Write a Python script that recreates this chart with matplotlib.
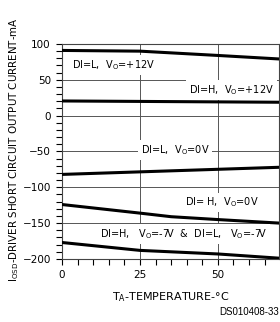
import matplotlib.pyplot as plt
from matplotlib.ticker import MultipleLocator

# temperature (degC) and short-circuit current (mA) for each curve
t_l12 = [0, 25, 50, 70]
i_l12 = [91, 90, 84, 79]
t_h12 = [0, 70]
i_h12 = [20.5, 18.7]
t_l0 = [0, 70]
i_l0 = [-82, -72]
t_h0 = [0, 25, 35, 50, 70]
i_h0 = [-124, -136, -141, -145, -150]
t_m7 = [0, 25, 50, 70]
i_m7 = [-177, -188, -193, -199]

labels = ['DI=L,  V$_\\mathregular{O}$=+12V',
          'DI=H,  V$_\\mathregular{O}$=+12V',
          'DI=L,  V$_\\mathregular{O}$=0V',
          'DI= H,  V$_\\mathregular{O}$=0V',
          'DI=H,   V$_\\mathregular{O}$=-7V  &  DI=L,   V$_\\mathregular{O}$=-7V']
label_pos = [(3.2, 70.7, 'left'), (68, 36, 'right'), (25.2, -48, 'left'),
             (63.2, -121, 'right'), (39, -165, 'center')]

plt.rcParams['font.family'] = ['DejaVu Sans']
fig = plt.figure(figsize=(2.8, 3.22), dpi=100)
ax = fig.add_axes([0.2214, 0.1957, 0.775, 0.6677])

for t, i in [(t_l12, i_l12), (t_h12, i_h12), (t_l0, i_l0), (t_h0, i_h0), (t_m7, i_m7)]:
    ax.plot(t, i, color='black', lw=2.2, zorder=3)

for txt, (x, y, ha) in zip(labels, label_pos):
    ax.text(x, y, txt, fontsize=7, ha=ha, va='center', zorder=4,
            bbox=dict(facecolor='white', edgecolor='none', pad=2))

ax.set_xlim(0, 69.6)
ax.set_ylim(-200, 100)
ax.xaxis.set_major_locator(MultipleLocator(25))
ax.xaxis.set_minor_locator(MultipleLocator(5))
ax.yaxis.set_major_locator(MultipleLocator(50))
ax.yaxis.set_minor_locator(MultipleLocator(10))
ax.grid(True, which='major', color='#555555', lw=0.7)
ax.tick_params(which='both', direction='out', labelsize=7.5, width=0.8, length=4, pad=4)
for s in ax.spines.values():
    s.set_linewidth(0.8)
    s.set_color('#444444')

ax.set_xlabel('T$_\\mathregular{A}$-TEMPERATURE-°C', fontsize=8, labelpad=7)
ax.set_ylabel('I$_\\mathregular{OSD}$-DRIVER SHORT CIRCUIT OUTPUT CURRENT-mA', fontsize=7.4)
ax.yaxis.set_label_coords(-0.19, 0.507)
fig.text(0.995, 0.015, 'DS010408-33', fontsize=7, ha='right', va='bottom',
         family='Liberation Sans')

fig.savefig('out.png', dpi=100)
